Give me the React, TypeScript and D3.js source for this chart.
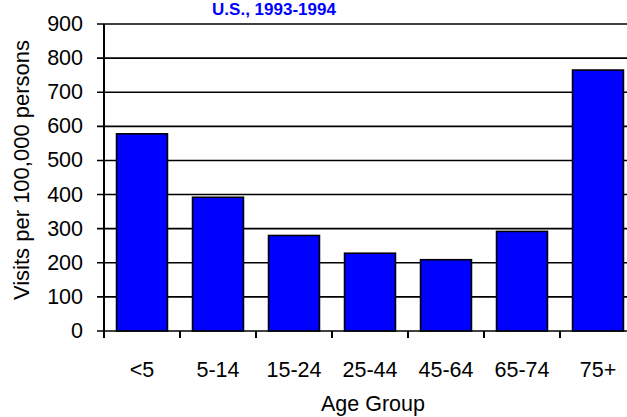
import React from "react";
import * as d3 from "d3";

const categories = ["<5", "5-14", "15-24", "25-44", "45-64", "65-74", "75+"];
const values = [578, 392, 280, 228, 209, 292, 765];
const yTicks = [0, 100, 200, 300, 400, 500, 600, 700, 800, 900];
const titleText = "U.S., 1993-1994";
const xTitle = "Age Group";
const yTitle = "Visits per 100,000 persons";

const W = 627;
const H = 417;
const left = 104;
const top = 24;
const bottom = 331;
const plotRight = 636;

export default function App() {
  const x = d3
    .scaleBand<string>()
    .domain(categories)
    .range([left, plotRight])
    .paddingInner(0.33)
    .paddingOuter(0.165);
  const y = d3.scaleLinear().domain([0, 900]).range([bottom, top]);
  const step = x.step();
  const bandStarts = categories.map((c) => x(c)! - (step - x.bandwidth()) / 2);
  const font = "'Liberation Sans', Arial, sans-serif";
  const fs = 21.5;

  return (
    <svg
      width={W}
      height={H}
      style={{ position: "absolute", left: 0, top: 0, background: "#fff" }}
      fontFamily={font}
    >
      <rect x={0} y={0} width={W} height={H} fill="#fff" />
      {yTicks.map((t) => (
        <line
          key={"g" + t}
          x1={left - 7}
          x2={W}
          y1={y(t)}
          y2={y(t)}
          stroke="#000"
          strokeWidth={1.6}
        />
      ))}
      {categories.map((c, i) => (
        <rect
          key={c}
          x={x(c)!}
          y={y(values[i])}
          width={x.bandwidth()}
          height={bottom - y(values[i])}
          fill="#0000ff"
          stroke="#000"
          strokeWidth={1.6}
        />
      ))}
      <line x1={left} x2={left} y1={top} y2={bottom + 6} stroke="#000" strokeWidth={2} />
      {yTicks.map((t) => (
        <text
          key={"yt" + t}
          x={83}
          y={y(t) + 7}
          textAnchor="end"
          fontSize={fs}
          fill="#000"
        >
          {t}
        </text>
      ))}
      {bandStarts.map((bx, i) => (
        <line
          key={"xt" + i}
          x1={bx}
          x2={bx}
          y1={bottom}
          y2={bottom + 7}
          stroke="#000"
          strokeWidth={2}
        />
      ))}
      {categories.map((c) => (
        <text
          key={"xl" + c}
          x={x(c)! + x.bandwidth() / 2}
          y={377}
          textAnchor="middle"
          fontSize={fs}
          fill="#000"
        >
          {c}
        </text>
      ))}
      <text x={373} y={411} textAnchor="middle" fontSize={fs} fill="#000">
        {xTitle}
      </text>
      <text
        transform={`translate(29,170) rotate(-90)`}
        textAnchor="middle"
        fontSize={22}
        fill="#000"
      >
        {yTitle}
      </text>
      <text
        x={274}
        y={14.5}
        textAnchor="middle"
        fontSize={17}
        fontWeight="bold"
        fill="#0000ff"
      >
        {titleText}
      </text>
    </svg>
  );
}
